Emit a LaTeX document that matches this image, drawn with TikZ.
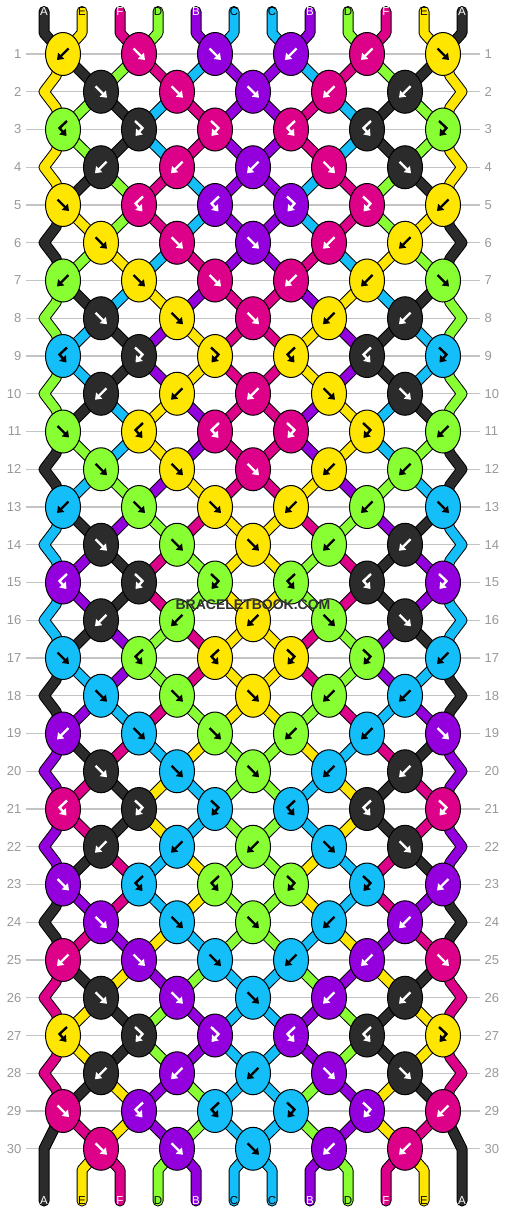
\documentclass[tikz,border=0pt]{standalone}
\usepackage{fontspec}
\setmainfont{Liberation Sans}
\usetikzlibrary{arrows.meta,shapes.geometric}
\pgfdeclarelayer{bg}
\pgfdeclarelayer{thr}
\pgfsetlayers{bg,thr,main}

\definecolor{thA}{HTML}{2B2B2B}
\definecolor{thE}{HTML}{FFE600}
\definecolor{thF}{HTML}{DD0088}
\definecolor{thD}{HTML}{88FF33}
\definecolor{thB}{HTML}{9400DD}
\definecolor{thC}{HTML}{14BEF8}
\colorlet{arA}{white}
\colorlet{arE}{black}
\colorlet{arF}{white}
\colorlet{arD}{black}
\colorlet{arB}{white}
\colorlet{arC}{black}
\definecolor{gridc}{HTML}{C4C4C4}
\definecolor{numc}{HTML}{999999}

\newcommand\bbstate[2]{%
  \foreach \vv [count=\ii from 0] in {#2} {\expandafter\xdef\csname bbst#1-\ii\endcsname{\vv}}}
\newcommand\bbtype[2]{%
  \foreach \vv [count=\ii from 0] in {#2} {\expandafter\xdef\csname bbty#1-\ii\endcsname{\vv}}}

\bbstate{0}{A,E,F,D,B,C,C,B,D,F,E,A}
\bbstate{1}{E,A,D,F,C,B,B,C,F,D,A,E}
\bbstate{2}{E,D,A,C,F,B,B,F,C,A,D,E}
\bbstate{3}{E,D,A,C,F,B,B,F,C,A,D,E}
\bbstate{4}{E,A,D,F,C,B,B,C,F,D,A,E}
\bbstate{5}{A,E,D,F,C,B,B,C,F,D,E,A}
\bbstate{6}{A,D,E,C,F,B,B,F,C,E,D,A}
\bbstate{7}{D,A,C,E,B,F,F,B,E,C,A,D}
\bbstate{8}{D,C,A,B,E,F,F,E,B,A,C,D}
\bbstate{9}{D,C,A,B,E,F,F,E,B,A,C,D}
\bbstate{10}{D,A,C,E,B,F,F,B,E,C,A,D}
\bbstate{11}{A,D,C,E,B,F,F,B,E,C,D,A}
\bbstate{12}{A,C,D,B,E,F,F,E,B,D,C,A}
\bbstate{13}{C,A,B,D,F,E,E,F,D,B,A,C}
\bbstate{14}{C,B,A,F,D,E,E,D,F,A,B,C}
\bbstate{15}{C,B,A,F,D,E,E,D,F,A,B,C}
\bbstate{16}{C,A,B,D,F,E,E,F,D,B,A,C}
\bbstate{17}{A,C,B,D,F,E,E,F,D,B,C,A}
\bbstate{18}{A,B,C,F,D,E,E,D,F,C,B,A}
\bbstate{19}{B,A,F,C,E,D,D,E,C,F,A,B}
\bbstate{20}{B,F,A,E,C,D,D,C,E,A,F,B}
\bbstate{21}{B,F,A,E,C,D,D,C,E,A,F,B}
\bbstate{22}{B,A,F,C,E,D,D,E,C,F,A,B}
\bbstate{23}{A,B,F,C,E,D,D,E,C,F,B,A}
\bbstate{24}{A,F,B,E,C,D,D,C,E,B,F,A}
\bbstate{25}{F,A,E,B,D,C,C,D,B,E,A,F}
\bbstate{26}{F,E,A,D,B,C,C,B,D,A,E,F}
\bbstate{27}{F,E,A,D,B,C,C,B,D,A,E,F}
\bbstate{28}{F,A,E,B,D,C,C,D,B,E,A,F}
\bbstate{29}{A,F,E,B,D,C,C,D,B,E,F,A}
\bbstate{30}{A,E,F,D,B,C,C,B,D,F,E,A}

\bbtype{0}{b,f,f,b,b,f}
\bbtype{1}{f,f,f,b,b}
\bbtype{2}{bf,fb,fb,bf,bf,fb}
\bbtype{3}{b,b,b,f,f}
\bbtype{4}{f,bf,bf,fb,fb,b}
\bbtype{5}{f,f,f,b,b}

\expandafter\def\csname bbdom-f\endcsname{L}
\expandafter\def\csname bbdom-fb\endcsname{L}
\expandafter\def\csname bbdom-b\endcsname{R}
\expandafter\def\csname bbdom-bf\endcsname{R}

\expandafter\newcommand\csname bbar-f\endcsname[1]{\draw[knotarrow,#1] (-5.5,-5.5) -- (6,6);}
\expandafter\newcommand\csname bbar-b\endcsname[1]{\draw[knotarrow,#1] (5.5,-5.5) -- (-6,6);}
\expandafter\newcommand\csname bbar-fb\endcsname[1]{\draw[knotarrow,#1] (-4,-8.5) -- (3.5,-1.5) -- (-3.5,6.5);}
\expandafter\newcommand\csname bbar-bf\endcsname[1]{\draw[knotarrow,#1] (4,-8.5) -- (-3.5,-1.5) -- (3.5,6.5);}

\newcommand\bbarrow[3]{%
  \begin{scope}[shift={(#3.center)}]
    \csname bbar-#1\endcsname{ar#2}
  \end{scope}}

\begin{document}
\begin{tikzpicture}[x=1pt,y=-1pt,
  knot/.style={ellipse, draw=black, line width=1pt, minimum width=35pt, minimum height=43pt, inner sep=0pt},
  thread/.style={draw=black, line width=1pt, double=#1, double distance=9pt, line cap=round, line join=round},
  gridline/.style={draw=gridc, line width=1.2pt},
  rownum/.style={text=numc, font=\fontsize{13}{13}\selectfont, inner sep=0pt},
  lab/.style={font=\fontsize{11.5}{12}\selectfont, inner sep=0pt},
  knotarrow/.style={line width=2.4pt, line join=miter, -{Triangle[length=6pt,width=8.5pt]}}
]
\useasboundingbox (0,0) rectangle (506,1212);

% background, row guide lines
\begin{pgfonlayer}{bg}
\fill[white] (0,0) rectangle (506,1212);
\foreach \r in {1,...,30} {
  \pgfmathsetmacro\yy{54+(\r-1)*37.75}
  \coordinate (gl-\r) at (26,\yy);
  \coordinate (gr-\r) at (480,\yy);
  \draw[gridline] (gl-\r) -- (gr-\r);
}
\end{pgfonlayer}
\foreach \r in {1,...,30} {
  \pgfmathsetmacro\yy{54+(\r-1)*37.75}
  \node[rownum, anchor=east] (nl-\r) at (21.5,\yy) {\r};
  \node[rownum, anchor=west] (nr-\r) at (484.5,\yy) {\r};
}

% knots
\foreach \r in {1,...,30} {
  \pgfmathsetmacro\yy{54+(\r-1)*37.75}
  \pgfmathtruncatemacro\pr{\r-1}
  \pgfmathtruncatemacro\mm{mod(\r-1,6)}
  \pgfmathtruncatemacro\odd{mod(\r,2)}
  \pgfmathtruncatemacro\nk{\odd==1 ? 5 : 4}
  \foreach \k in {0,...,\nk} {
    \pgfmathsetmacro\xx{\odd==1 ? 63+76*\k : 101+76*\k}
    \pgfmathtruncatemacro\pL{\odd==1 ? 2*\k : 2*\k+1}
    \pgfmathtruncatemacro\pR{\pL+1}
    \edef\bbt{\csname bbty\mm-\k\endcsname}
    \edef\bbd{\csname bbdom-\bbt\endcsname}
    \if L\bbd \edef\bbk{\csname bbst\pr-\pL\endcsname}\else\edef\bbk{\csname bbst\pr-\pR\endcsname}\fi
    \node[knot, fill=th\bbk] (k-\r-\k) at (\xx,\yy) {};
    \bbarrow{\bbt}{\bbk}{k-\r-\k}
  }
}

% labels top and bottom
\foreach \i in {0,...,11} {
  \pgfmathsetmacro\xx{44+38*\i}
  \edef\bbk{\csname bbst0-\i\endcsname}
  \node[lab, text=ar\bbk] (lt-\i) at (\xx,11.5) {\bbk};
  \edef\bbk{\csname bbst30-\i\endcsname}
  \node[lab, text=ar\bbk] (lb-\i) at (\xx,1201) {\bbk};
}

% watermark
\node[font=\bfseries\fontsize{14}{14}\selectfont, text=black!80, inner sep=0pt] (wm) at (253,605) {BRACELETBOOK.COM};

% threads
\begin{pgfonlayer}{thr}
\foreach \i in {0,...,11} {
  \pgfmathtruncatemacro\kk{floor(\i/2)}
  \edef\bbk{\csname bbst0-\i\endcsname}
  \draw[thread=th\bbk] (lt-\i.center) -- ++(0,21.5) -- (k-1-\kk.center);
}
\foreach \r in {1,...,29} {
  \pgfmathtruncatemacro\nr{\r+1}
  \pgfmathtruncatemacro\odd{mod(\r,2)}
  \foreach \i in {1,...,10} {
    \pgfmathtruncatemacro\ka{\odd==1 ? floor(\i/2) : floor((\i-1)/2)}
    \pgfmathtruncatemacro\kb{\odd==1 ? floor((\i-1)/2) : floor(\i/2)}
    \edef\bbk{\csname bbst\r-\i\endcsname}
    \draw[thread=th\bbk] (k-\r-\ka.center) -- (k-\nr-\kb.center);
  }
}
\foreach \r in {1,3,...,27} {
  \pgfmathtruncatemacro\nr{\r+2}
  \edef\bbk{\csname bbst\r-0\endcsname}
  \draw[thread=th\bbk] (k-\r-0.center) -- ++(-7,22) -- ++(-12,15.75) -- ++(12,15.75) -- (k-\nr-0.center);
  \edef\bbk{\csname bbst\r-11\endcsname}
  \draw[thread=th\bbk] (k-\r-5.center) -- ++(7,22) -- ++(12,15.75) -- ++(-12,15.75) -- (k-\nr-5.center);
}
\foreach \i in {1,...,10} {
  \pgfmathtruncatemacro\kk{floor((\i-1)/2)}
  \edef\bbk{\csname bbst30-\i\endcsname}
  \draw[thread=th\bbk] (k-30-\kk.center) -- ([yshift=31pt]lb-\i.center) -- (lb-\i.center);
}
\edef\bbk{\csname bbst29-0\endcsname}
\draw[thread=th\bbk] (k-29-0.center) -- ([yshift=52pt]lb-0.center) -- (lb-0.center);
\edef\bbk{\csname bbst29-11\endcsname}
\draw[thread=th\bbk] (k-29-5.center) -- ([yshift=52pt]lb-11.center) -- (lb-11.center);
\end{pgfonlayer}
\end{tikzpicture}
\end{document}
